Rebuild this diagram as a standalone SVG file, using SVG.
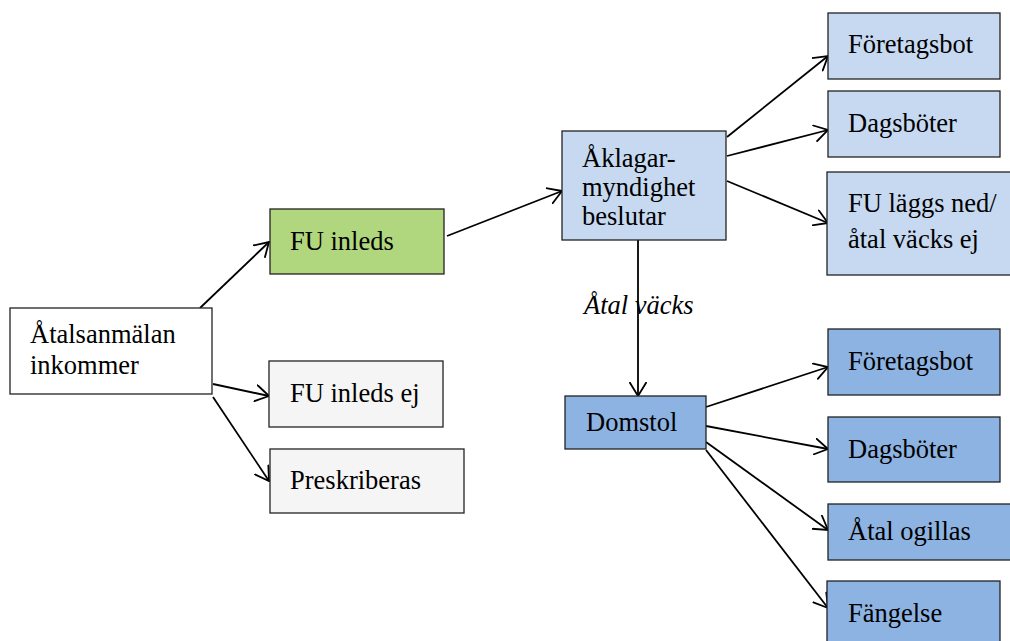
<svg xmlns="http://www.w3.org/2000/svg" width="1010" height="641" viewBox="0 0 1010 641">
<style>
.box{stroke:#222;stroke-width:1.3}
.white{fill:#ffffff}
.green{fill:#b0d67e}
.gray{fill:#f5f5f5}
.lb{fill:#c6d9f1}
.db{fill:#8db3e2}
text{font-family:"Liberation Serif","Times New Roman",serif;font-size:26.5px;fill:#000}
.it{font-style:italic}
.c{stroke:#000;stroke-width:1.8;fill:none;marker-end:url(#arr)}
</style>
<defs>
<marker id="arr" viewBox="0 0 15 18" refX="14" refY="9" markerWidth="15" markerHeight="18" markerUnits="userSpaceOnUse" orient="auto">
<path d="M0,0.5 L14,9 L0,17.5" fill="none" stroke="#000" stroke-width="1.8"/>
</marker>
</defs>
<rect width="1010" height="641" fill="#fff"/>
<g id="connectors">
<line class="c" x1="200" y1="308" x2="269" y2="242"/>
<line class="c" x1="213" y1="384" x2="269" y2="396"/>
<line class="c" x1="213" y1="397" x2="269" y2="481"/>
<line class="c" x1="447" y1="236" x2="562" y2="191"/>
<line class="c" x1="727" y1="137" x2="828" y2="56"/>
<line class="c" x1="727" y1="156" x2="828" y2="130"/>
<line class="c" x1="727" y1="181" x2="828" y2="223"/>
<line class="c" x1="638" y1="240" x2="638" y2="396"/>
<line class="c" x1="706" y1="407" x2="828" y2="367"/>
<line class="c" x1="706" y1="426" x2="828" y2="449"/>
<line class="c" x1="706" y1="442" x2="828" y2="530"/>
<line class="c" x1="706" y1="450" x2="828" y2="608"/>
<text class="it" x="584" y="314">Åtal väcks</text>
</g>
<g id="n-atalsanmalan">
<rect class="box white" x="10" y="308" width="202" height="86"/>
<text x="30" y="343">Åtalsanmälan</text>
<text x="30" y="374">inkommer</text>
</g>
<g id="n-fu-inleds">
<rect class="box green" x="270" y="209" width="174" height="65"/>
<text x="290" y="250">FU inleds</text>
</g>
<g id="n-fu-inleds-ej">
<rect class="box gray" x="269" y="361" width="174" height="66"/>
<text x="290" y="402">FU inleds ej</text>
</g>
<g id="n-preskriberas">
<rect class="box gray" x="270" y="449" width="194" height="64"/>
<text x="290" y="489">Preskriberas</text>
</g>
<g id="n-aklagar">
<rect class="box lb" x="562" y="131" width="164" height="109"/>
<text x="582" y="167">Åklagar-</text>
<text x="582" y="196">myndighet</text>
<text x="582" y="225">beslutar</text>
</g>
<g id="n-foretagsbot1">
<rect class="box lb" x="828" y="13" width="172" height="66"/>
<text x="848" y="53">Företagsbot</text>
</g>
<g id="n-dagsboter1">
<rect class="box lb" x="828" y="91" width="172" height="66"/>
<text x="848" y="132">Dagsböter</text>
</g>
<g id="n-fu-laggs-ned">
<rect class="box lb" x="827" y="172" width="190" height="103"/>
<text x="848" y="212">FU läggs ned/</text>
<text x="848" y="248">åtal väcks ej</text>
</g>
<g id="n-domstol">
<rect class="box db" x="565" y="396" width="141" height="53"/>
<text x="586" y="431">Domstol</text>
</g>
<g id="n-foretagsbot2">
<rect class="box db" x="828" y="329" width="172" height="66"/>
<text x="848" y="370">Företagsbot</text>
</g>
<g id="n-dagsboter2">
<rect class="box db" x="828" y="417" width="172" height="65"/>
<text x="848" y="458">Dagsböter</text>
</g>
<g id="n-atal-ogillas">
<rect class="box db" x="828" y="504" width="190" height="56"/>
<text x="848" y="540">Åtal ogillas</text>
</g>
<g id="n-fangelse">
<rect class="box db" x="827" y="581" width="173" height="70"/>
<text x="848" y="622">Fängelse</text>
</g>
</svg>
